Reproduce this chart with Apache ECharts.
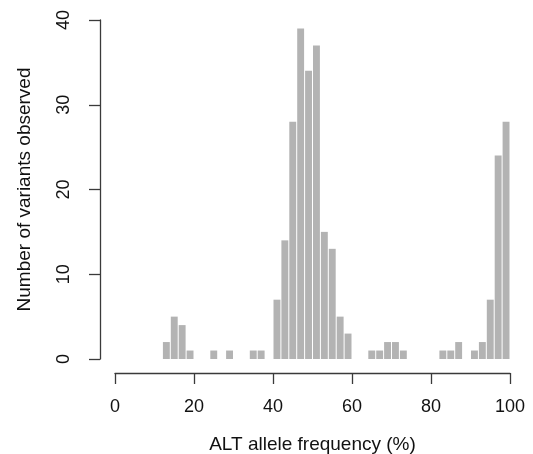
<!DOCTYPE html>
<html>
<head>
<meta charset="utf-8">
<script src="https://cdn.jsdelivr.net/npm/echarts@6/dist/echarts.min.js"></script>
<style>html,body{margin:0;padding:0;background:#fff}#c{width:533px;height:454px}</style>
</head>
<body>
<div id="c"></div>
<script>
// Histogram bins: lower edges (%), width 2
const binStarts = [12,14,16,18,24,28,34,36,40,42,44,46,48,50,52,54,56,58,64,66,68,70,72,82,84,86,90,92,94,96,98];
const counts    = [2, 5, 4, 1, 1, 1, 1, 1, 7, 14,28,39,34,37,15,13,5, 3, 1, 1, 2, 2, 1, 1, 1, 2, 1, 2, 7, 24,28];
const binWidth = 2;
const xTicks = [0,20,40,60,80,100];
const yTicks = [0,10,20,30,40];
const xTitle = 'ALT allele frequency (%)';
const yTitle = 'Number of variants observed';

const data = binStarts.map((s,i)=>[s, s+binWidth, counts[i]]);
const chart = echarts.init(document.getElementById('c'));
const font = '"Liberation Sans", Arial, Helvetica, sans-serif';
const axisCol = '#3a3a3a';
chart.setOption({
  animation:false,
  backgroundColor:'#fff',
  grid:{left:115, right:23, top:20, bottom:95, containLabel:false, outerBoundsMode:'none'},
  xAxis:{
    type:'value', min:xTicks[0], max:xTicks[xTicks.length-1], interval:20,
    offset:14,
    axisLine:{show:true, onZero:false, lineStyle:{color:axisCol, width:1.3}},
    axisTick:{show:true, inside:false, length:11, lineStyle:{color:axisCol, width:1.3}},
    axisLabel:{show:true, margin:25, fontSize:18, color:'#111', fontFamily:font},
    splitLine:{show:false},
    name:xTitle, nameLocation:'middle', nameGap:62,
    nameTextStyle:{fontSize:19, color:'#111', fontFamily:font}
  },
  yAxis:{
    type:'value', min:yTicks[0], max:yTicks[yTicks.length-1], interval:10,
    offset:15,
    axisLine:{show:true, onZero:false, lineStyle:{color:axisCol, width:1.3}},
    axisTick:{show:true, inside:false, length:11, lineStyle:{color:axisCol, width:1.3}},
    axisLabel:{show:true, rotate:90, margin:27, fontSize:18, color:'#111', fontFamily:font, align:'center', verticalAlign:'bottom'},
    splitLine:{show:false},
    name:yTitle, nameLocation:'middle', nameGap:66, nameRotate:90,
    nameTextStyle:{fontSize:19, color:'#111', fontFamily:font}
  },
  series:[{
    type:'custom',
    data:data,
    encode:{x:[0,1], y:2},
    renderItem:function(params, api){
      const p0 = api.coord([api.value(0), 0]);
      const p1 = api.coord([api.value(1), api.value(2)]);
      return {
        type:'rect',
        shape:{x:p0[0]+0.5, y:p1[1], width:p1[0]-p0[0]-1, height:p0[1]-p1[1]},
        style:{fill:'#b3b3b3'}
      };
    }
  }]
});
</script>
</body>
</html>
